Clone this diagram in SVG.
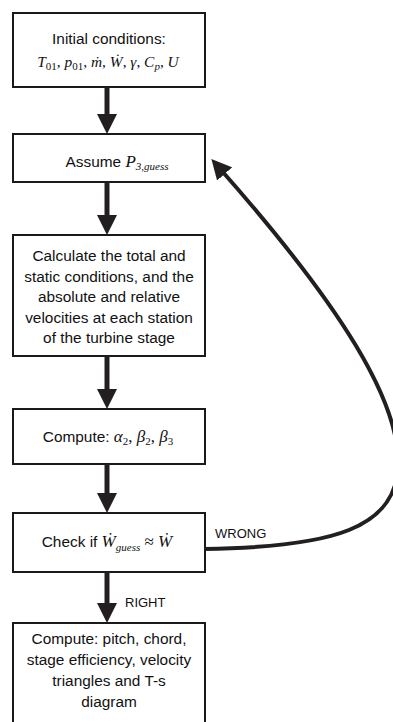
<svg xmlns="http://www.w3.org/2000/svg" width="393" height="722" viewBox="0 0 393 722">
<style>
.box{fill:#fff;stroke:#1a1a1a;stroke-width:2}
.t{font-family:"Liberation Sans",Arial,sans-serif;font-size:15.4px;fill:#111;text-anchor:middle}
.m{font-family:"Liberation Serif","DejaVu Serif",serif;font-style:italic}
.s{font-size:11px}
.u{font-style:normal}
.lbl{font-family:"Liberation Sans",Arial,sans-serif;font-size:13px;fill:#111}
.c{fill:none;stroke:#231f20;stroke-width:5}
.cv{fill:none;stroke:#231f20;stroke-width:4}
</style>
<defs>
<marker id="ah" viewBox="0 0 20 20" refX="10" refY="10" markerWidth="20" markerHeight="20" markerUnits="userSpaceOnUse" orient="auto">
<path d="M0,0 L20,10 L0,20 z" fill="#231f20"/>
</marker>
</defs>
<g id="n1">
<rect class="box" x="13" y="13" width="192" height="74"/>
<text class="t" x="109" y="44">Initial conditions:</text>
<text class="t m" x="108" y="67" font-size="17">T<tspan class="s u" dy="3">01</tspan><tspan class="u" dy="-3">, </tspan>p<tspan class="s u" dy="3">01</tspan><tspan class="u" dy="-3">, </tspan>ṁ<tspan class="u">, </tspan>Ẇ<tspan class="u">, </tspan>γ<tspan class="u">, </tspan>C<tspan class="s" dy="3">p</tspan><tspan class="u" dy="-3">, </tspan>U</text>
</g>
<g id="n2">
<rect class="box" x="13" y="134" width="192" height="48"/>
<text class="t" x="117" y="167">Assume <tspan class="m" font-size="17">P</tspan><tspan class="m s" dy="3">3,guess</tspan></text>
</g>
<g id="n3">
<rect class="box" x="13" y="235" width="192" height="121"/>
<text class="t" x="109" y="261">Calculate the total and</text>
<text class="t" x="109" y="281.5">static conditions, and the</text>
<text class="t" x="109" y="302">absolute and relative</text>
<text class="t" x="109" y="322.5">velocities at each station</text>
<text class="t" x="109" y="343">of the turbine stage</text>
</g>
<g id="n4">
<rect class="box" x="13" y="409" width="192" height="55"/>
<text class="t" x="108" y="442">Compute: <tspan class="m" font-size="17">α</tspan><tspan class="m u s" dy="3">2</tspan><tspan class="m u" font-size="17" dy="-3">, </tspan><tspan class="m" font-size="17">β</tspan><tspan class="m u s" dy="3">2</tspan><tspan class="m u" font-size="17" dy="-3">, </tspan><tspan class="m" font-size="17">β</tspan><tspan class="m u s" dy="3">3</tspan></text>
</g>
<g id="n5">
<rect class="box" x="13" y="513" width="192" height="59"/>
<text class="t" x="107" y="547">Check if <tspan class="m" font-size="17">Ẇ</tspan><tspan class="m s" dy="4">guess</tspan><tspan class="m u" font-size="17" dy="-4"> ≈ </tspan><tspan class="m" font-size="17">Ẇ</tspan></text>
</g>
<g id="n6">
<rect class="box" x="13" y="623" width="192" height="102"/>
<text class="t" x="109" y="644">Compute: pitch, chord,</text>
<text class="t" x="109" y="665">stage efficiency, velocity</text>
<text class="t" x="109" y="686">triangles and T-s</text>
<text class="t" x="109" y="707">diagram</text>
</g>
<g id="connectors">
<line class="c" x1="107" y1="87" x2="107" y2="124" marker-end="url(#ah)"/>
<line class="c" x1="107" y1="182" x2="107" y2="225" marker-end="url(#ah)"/>
<line class="c" x1="107" y1="356" x2="107" y2="399" marker-end="url(#ah)"/>
<line class="c" x1="107" y1="464" x2="107" y2="503" marker-end="url(#ah)"/>
<line class="c" x1="107" y1="572" x2="107" y2="613" marker-end="url(#ah)"/>
<path class="cv" d="M204,549 C330,547 400,530 398,460 C397,400 345,310 218,166.5" marker-end="url(#ah)"/>
<text class="lbl" x="215" y="538">WRONG</text>
<text class="lbl" x="125" y="607">RIGHT</text>
</g>
</svg>
